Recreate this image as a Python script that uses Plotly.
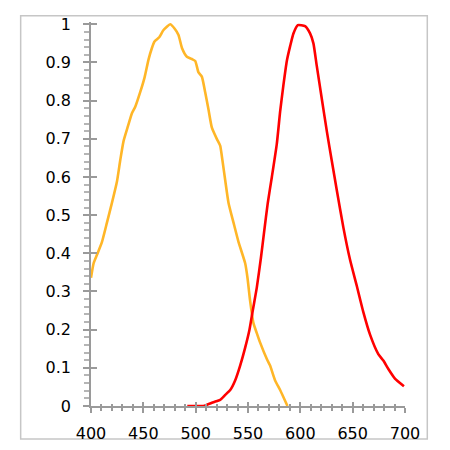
import plotly.graph_objects as go

# orange curve (wavelength nm, relative response)
orange_wl = [400, 402.5, 405.7, 410.5, 415.3, 420, 424.8, 428, 431.1, 435.3,
             439.1, 442.3, 447, 451.2, 455, 458.2, 460.7, 465.2, 469.3, 475.7,
             479.8, 483.6, 486.9, 491.6, 496.4, 499.6, 502.7, 505.9, 509.1, 512.3,
             515.5, 520.3, 523.4, 525.6, 528.2, 531.4, 536.1, 540.9, 547.3, 549.5,
             552, 555.2, 558.4, 561.6, 568, 571.1, 575.9, 580.7, 587.7]
orange_val = [0.336, 0.374, 0.396, 0.430, 0.481, 0.532, 0.588, 0.645, 0.694, 0.733,
              0.767, 0.784, 0.822, 0.861, 0.908, 0.938, 0.955, 0.966, 0.985, 1.0,
              0.989, 0.972, 0.938, 0.915, 0.909, 0.904, 0.874, 0.863, 0.822, 0.776,
              0.729, 0.699, 0.682, 0.643, 0.592, 0.532, 0.481, 0.430, 0.374, 0.336,
              0.276, 0.217, 0.191, 0.166, 0.123, 0.106, 0.067, 0.042, 0.0]

# red curve
red_wl = [492, 500, 507.5, 517, 523.4, 528.2, 533, 537.7, 542.5, 547.3,
          551.4, 554.6, 558.4, 562.3, 565.4, 568.9, 572.8, 577.5, 580.7, 583.8,
          587.1, 590.2, 593.4, 597.6, 604.5, 609.3, 612.5, 615.7, 620.5, 625.3,
          630, 634.8, 641.1, 647.5, 653.9, 660.2, 666.6, 674.5, 679.3, 684.1,
          690.4, 699]
red_val = [0.0, 0.0, 0.0, 0.010, 0.016, 0.029, 0.042, 0.067, 0.106, 0.153,
           0.200, 0.251, 0.310, 0.387, 0.456, 0.532, 0.60, 0.686, 0.771, 0.840,
           0.904, 0.942, 0.976, 0.998, 0.995, 0.976, 0.950, 0.891, 0.805, 0.720,
           0.643, 0.566, 0.468, 0.383, 0.315, 0.246, 0.187, 0.136, 0.119, 0.097,
           0.072, 0.052]

x_ticks = [400, 450, 500, 550, 600, 650, 700]
y_ticks = [0, 0.1, 0.2, 0.3, 0.4, 0.5, 0.6, 0.7, 0.8, 0.9, 1]
y_labels = ["0", "0.1", "0.2", "0.3", "0.4", "0.5", "0.6", "0.7", "0.8", "0.9", "1"]

AXIS_GREY = "#9a9a9a"
XR = [400, 700]
YR = [0, 1.006]

fig = go.Figure()

fig.add_trace(go.Scatter(x=orange_wl, y=orange_val, mode="lines",
                         line=dict(color="#FFB627", width=2.6, shape="spline", smoothing=0.5),
                         showlegend=False))
fig.add_trace(go.Scatter(x=red_wl, y=red_val, mode="lines",
                         line=dict(color="#FF0000", width=2.6, shape="spline", smoothing=0.5),
                         showlegend=False))
# dummy trace so the overlay axes (inner half of the cross ticks) get drawn
fig.add_trace(go.Scatter(x=[400], y=[0], xaxis="x2", yaxis="y2", mode="none",
                         showlegend=False, hoverinfo="skip"))

# page body has an 8px margin, so the figure is a bit smaller than the window
fig.update_layout(
    width=442, height=442,
    margin=dict(l=83, r=45, t=7, b=42),
    paper_bgcolor="white", plot_bgcolor="white",
    font=dict(family="DejaVu Sans, sans-serif", size=16, color="#000"),
    xaxis=dict(range=XR, tickvals=x_ticks, ticks="outside", ticklen=5,
               tickcolor=AXIS_GREY, tickwidth=1.5, showline=True,
               linecolor=AXIS_GREY, linewidth=1.5, showgrid=False, zeroline=False,
               ticklabelstandoff=7, ticklabeloverflow="allow",
               minor=dict(dtick=10, ticks="outside", ticklen=3,
                          tickcolor=AXIS_GREY, showgrid=False)),
    yaxis=dict(range=YR, tickvals=y_ticks, ticktext=y_labels, ticks="outside",
               ticklen=6, tickcolor=AXIS_GREY, tickwidth=1.5, showline=True,
               linecolor=AXIS_GREY, linewidth=1.5, showgrid=False, zeroline=False,
               ticklabelstandoff=9, ticklabeloverflow="allow",
               minor=dict(dtick=0.02, ticks="outside", ticklen=5,
                          tickcolor="#b5b5b5", showgrid=False)),
    xaxis2=dict(range=XR, overlaying="x", anchor="y", side="bottom",
                tickvals=x_ticks, ticks="inside", ticklen=4, tickcolor=AXIS_GREY,
                tickwidth=1.5, showticklabels=False, showline=False,
                showgrid=False, zeroline=False,
                minor=dict(dtick=10, ticks="inside", ticklen=2,
                           tickcolor=AXIS_GREY, showgrid=False)),
    yaxis2=dict(range=YR, overlaying="y", anchor="x", side="left",
                tickvals=y_ticks, ticks="inside", ticklen=6, tickcolor=AXIS_GREY,
                tickwidth=1.5, showticklabels=False, showline=False,
                showgrid=False, zeroline=False),
)

# light frame around the whole chart
fig.add_shape(type="rect", xref="paper", yref="paper",
              x0=-0.224, x1=1.071, y0=-0.086, y1=1.016,
              line=dict(color="#c6c6c6", width=1.5), layer="below")

fig.write_html("out.html")
